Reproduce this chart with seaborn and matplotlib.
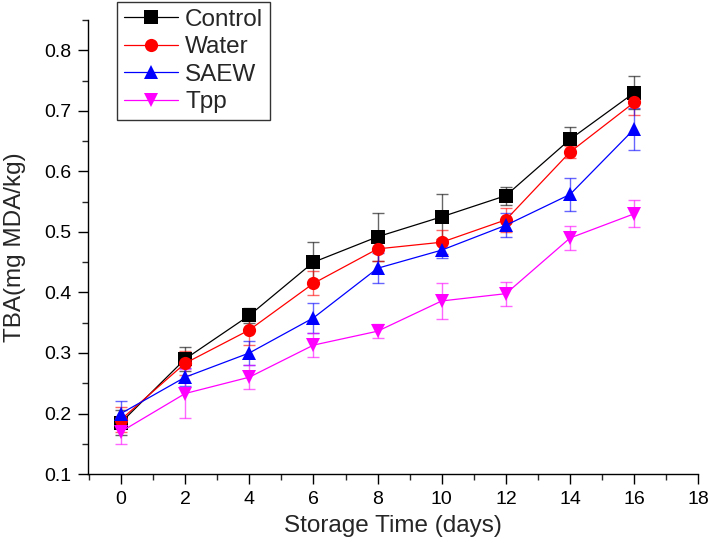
import numpy as np
import pandas as pd
import matplotlib
matplotlib.use("Agg")
import matplotlib.pyplot as plt
from matplotlib.ticker import MultipleLocator
import seaborn as sns

# Storage days and TBA means / error bars
days = [0, 2, 4, 6, 8, 10, 12, 14, 16]
control = [0.185, 0.290, 0.362, 0.450, 0.492, 0.525, 0.560, 0.653, 0.730]
water = [0.190, 0.283, 0.338, 0.415, 0.472, 0.483, 0.520, 0.632, 0.714]
saew = [0.200, 0.260, 0.300, 0.358, 0.440, 0.470, 0.511, 0.562, 0.670]
tpp = [0.170, 0.233, 0.260, 0.313, 0.336, 0.386, 0.398, 0.490, 0.530]

control_err = [0.020, 0.020, 0.012, 0.033, 0.040, 0.037, 0.015, 0.020, 0.027]
water_err = [0.020, 0.020, 0.025, 0.020, 0.020, 0.020, 0.020, 0.010, 0.020]
saew_err = [0.020, 0.015, 0.020, 0.025, 0.025, 0.013, 0.020, 0.027, 0.035]
tpp_err = [0.020, 0.040, 0.020, 0.020, 0.012, 0.030, 0.020, 0.020, 0.022]

groups = ["Control", "Water", "SAEW", "Tpp"]
colors = {"Control": "black", "Water": "red", "SAEW": "blue", "Tpp": "magenta"}
markers = {"Control": "s", "Water": "o", "SAEW": "^", "Tpp": "v"}

means = {"Control": control, "Water": water, "SAEW": saew, "Tpp": tpp}
errs = {"Control": control_err, "Water": water_err, "SAEW": saew_err, "Tpp": tpp_err}

df = pd.concat(
    [pd.DataFrame({"day": days, "tba": means[g], "err": errs[g], "group": g}) for g in groups],
    ignore_index=True,
)

sns.set_style("ticks")
plt.rcParams["font.family"] = ["Liberation Sans", "DejaVu Sans"]

fig = plt.figure(figsize=(7.09, 5.43), dpi=100)
ax = fig.add_axes([0.124, 0.127, 0.861, 0.836])

# error bars first so markers sit on top
for g in groups:
    sub = df[df["group"] == g]
    ax.errorbar(sub["day"], sub["tba"], yerr=sub["err"], fmt="none",
                ecolor=colors[g], elinewidth=1, capsize=4, capthick=1, alpha=0.6, zorder=2)

sns.lineplot(data=df, x="day", y="tba", hue="group", style="group",
             palette=colors, markers=markers, dashes=False, markersize=9.5,
             markeredgewidth=0, linewidth=0.9, ax=ax, zorder=3, legend=False)

ax.set_xlim(-1.03, 18)
ax.set_ylim(0.1, 0.85)
ax.xaxis.set_major_locator(MultipleLocator(2))
ax.xaxis.set_minor_locator(MultipleLocator(1))
ax.yaxis.set_minor_locator(MultipleLocator(0.05))
yt = np.arange(0.1, 0.81, 0.1)
ax.set_yticks(yt)
ax.set_yticklabels([f"{v:.1f}" for v in yt])
ax.tick_params(which="major", length=7, width=1, labelsize=14, colors="black")
ax.tick_params(which="minor", length=4.5, width=1)
ax.tick_params(axis="x", which="major", pad=5)
ax.tick_params(axis="y", which="major", pad=5)
for s in ["top", "right"]:
    ax.spines[s].set_visible(False)
for s in ["left", "bottom"]:
    ax.spines[s].set_linewidth(1)
    ax.spines[s].set_color("black")

ax.set_xlabel("Storage Time (days)", fontsize=17.5, labelpad=5)
ax.set_ylabel("TBA(mg MDA/kg)", fontsize=17.5, labelpad=13)

handles = [plt.Line2D([], [], color=colors[g], marker=markers[g], markersize=9.5,
                      markeredgewidth=0, linewidth=0.9) for g in groups]
leg = fig.legend(handles, groups, loc="upper left", bbox_to_anchor=(0.165, 0.997),
                 borderaxespad=0, fontsize=17.5, frameon=True, fancybox=False,
                 edgecolor="black", handlelength=2.2, handletextpad=0.3,
                 labelspacing=0.22, borderpad=0.3)
leg.get_frame().set_linewidth(1)

fig.savefig("out.png", dpi=100)
